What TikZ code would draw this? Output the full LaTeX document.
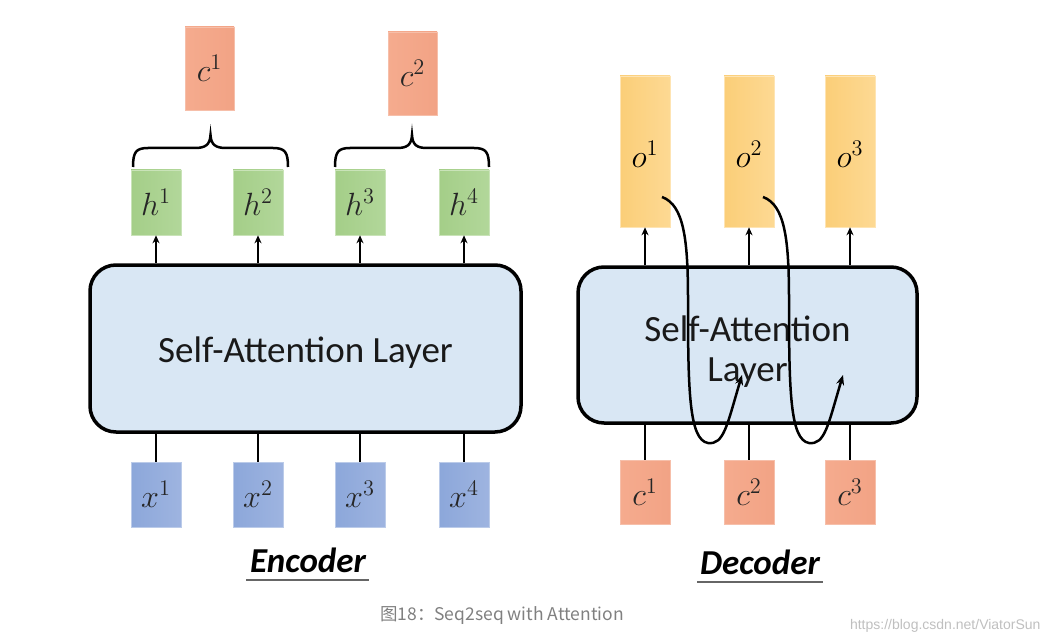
\documentclass[tikz,border=0pt]{standalone}
\usepackage{fontspec}
\setmainfont{Carlito}
\newfontfamily\cjkfont{Noto Sans CJK SC}
\newfontfamily\wmfont{Liberation Sans}
\usetikzlibrary{arrows.meta}
\newcommand{\mvar}[2]{\scalebox{1.55}{\fontsize{20.74}{24}\selectfont$#1^{#2}$}}
\definecolor{salmonL}{HTML}{F5AB8E}
\definecolor{salmonR}{HTML}{F2A385}
\definecolor{greenL}{HTML}{A4CE88}
\definecolor{greenR}{HTML}{B2D79A}
\definecolor{blueL}{HTML}{8CA7DA}
\definecolor{blueR}{HTML}{9EB4E0}
\definecolor{yelL}{HTML}{FBCE78}
\definecolor{yelR}{HTML}{FDD993}
\definecolor{layerfill}{HTML}{D9E7F4}
\tikzset{
  box/.style={draw=#1R!70!white, line width=0.6pt, minimum width=50pt, inner sep=0pt,
    left color=#1L, right color=#1R, text=black!85},
  layerbox/.style={draw=black, line width=3.5pt, fill=layerfill, rounded corners=26pt,
    font=\fontsize{37}{44}\selectfont, align=center, text=black!90},
  arr/.style={line width=2pt, -{Stealth[length=8pt,width=7pt]}},
  plain/.style={line width=2pt},
  bracepath/.style={line width=2.5pt},
  curvearr/.style={line width=2.5pt, -{Stealth[length=10pt,width=8pt]}},
  title/.style={font=\fontsize{35}{40}\selectfont\bfseries\itshape},
  uline/.style={line width=2pt, draw=black!60},
}
\begin{document}
\begin{tikzpicture}[x=1pt,y=-1pt]
\useasboundingbox (0,0) rectangle (1051,644);
% ---------------- Encoder ----------------
\node[layerbox, minimum width=431pt, minimum height=167pt] (enc) at (305.5,348.5) {\rule{0pt}{34pt}Self-Attention Layer};
\node[box=salmon, minimum width=49pt, minimum height=83pt] (ct1) at (209.5,68.5) {\mvar{c}{1}};
\node[box=salmon, minimum width=49pt, minimum height=83pt] (ct2) at (412.5,73.5) {\mvar{c}{2}};
\foreach \i/\x in {1/156,2/258,3/360,4/464}{
  \node[box=green, minimum height=65pt] (h\i) at (\x,202.5) {\mvar{h}{\i}};
  \node[box=blue, minimum height=65pt] (x\i) at (\x,494.5) {\mvar{x}{\i}};
  \draw[arr] (h\i.south |- enc.north) -- (h\i.south);
  \draw[plain] (x\i.north) -- (x\i.north |- enc.south);
}
% braces
\draw[bracepath] (133,167) .. controls (133,152) and (136,148) .. (148,148) -- (195,148)
  .. controls (205,148) and (210,145) .. (210.5,135) .. controls (211,145) and (216,148) .. (226,148)
  -- (273,148) .. controls (285,148) and (288,152) .. (288,167);
\draw[bracepath] (335,167) .. controls (335,152) and (338,148) .. (350,148) -- (397,148)
  .. controls (407,148) and (411.5,145) .. (412,135) .. controls (412.5,145) and (417,148) .. (427,148)
  -- (474,148) .. controls (486,148) and (489,152) .. (489,167);
\node[title] (enct) at (308,560) {Encoder};
\draw[uline] (246,580) -- (369,580);
% ---------------- Decoder ----------------
\node[layerbox, minimum width=339pt, minimum height=156pt] (dec) at (747.5,345) {\rule{0pt}{38pt}Self-Attention\\[-4pt]Layer};
\foreach \i/\x in {1/645,2/749,3/850}{
  \node[box=yel, minimum height=151pt] (o\i) at (\x,151.5) {};
  \node[inner sep=0pt] (ot\i) at (\x,154) {\mvar{o}{\i}};
  \node[box=salmon, minimum height=64pt] (cb\i) at (\x,492) {\mvar{c}{\i}};
  \draw[arr] (o\i.south |- dec.north) -- (o\i.south);
  \draw[plain] (cb\i.north) -- (cb\i.north |- dec.south);
}
\coordinate (s1) at (662,197);
\coordinate (e1) at (742,375);
\coordinate (s2) at (763,197);
\coordinate (e2) at (843,375);
\draw[curvearr] (s1) .. controls (684,205) and (688,240) .. (688,300)
  .. controls (688,390) and (689,440) .. (708,443) .. controls (724,445) and (727,425) .. (e1);
\draw[curvearr] (s2) .. controls (785,205) and (789,240) .. (789,300)
  .. controls (789,390) and (790,440) .. (809,443) .. controls (825,445) and (828,425) .. (e2);
\node[title] (dect) at (760,562) {Decoder};
\draw[uline] (697,582) -- (823,582);
% ---------------- Caption ----------------
\node[font=\cjkfont\fontsize{17.5}{20}\selectfont, text=black!50] (cap) at (502,616) {图18：Seq2seq with Attention};
\node[font=\wmfont\fontsize{14}{16}\selectfont, text=black!25, anchor=east] (wm) at (1044,626) {https://blog.csdn.net/ViatorSun};
\end{tikzpicture}
\end{document}
